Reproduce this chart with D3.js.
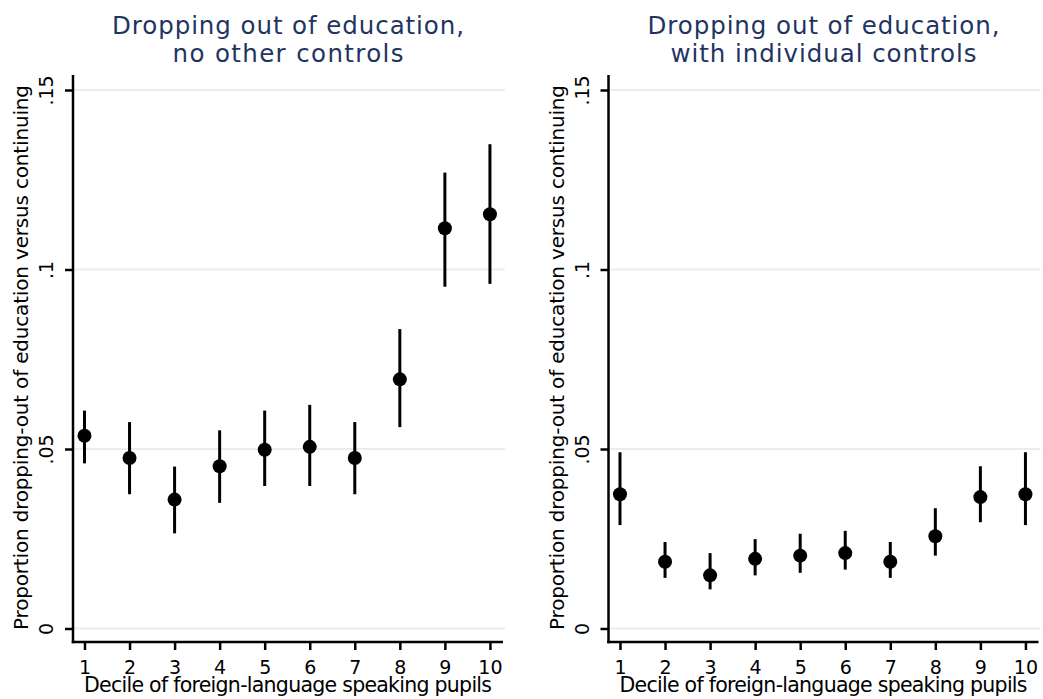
<!DOCTYPE html>
<html>
<head>
<meta charset="utf-8">
<script src="https://cdn.jsdelivr.net/npm/d3@7"></script>
<style>
  html, body { margin: 0; padding: 0; background: #fff; }
  svg { display: block; }
  text { font-family: "DejaVu Sans", Verdana, sans-serif; }
</style>
</head>
<body>
<svg id="chart" width="1043" height="699"></svg>
<script>
// Decile of foreign-language speaking pupils
const deciles = [1, 2, 3, 4, 5, 6, 7, 8, 9, 10];

// Panel 1: no other controls (point estimate and 95% interval)
const rawEst   = [0.0537, 0.0475, 0.0359, 0.0452, 0.0498, 0.0506, 0.0475, 0.0694, 0.1115, 0.1154];
const rawLow   = [0.0460, 0.0374, 0.0265, 0.0350, 0.0397, 0.0397, 0.0374, 0.0561, 0.0952, 0.0960];
const rawHigh  = [0.0607, 0.0575, 0.0451, 0.0552, 0.0607, 0.0623, 0.0575, 0.0834, 0.1270, 0.1349];

// Panel 2: with individual controls
const ctrlEst  = [0.0374, 0.0186, 0.0148, 0.0194, 0.0203, 0.0210, 0.0186, 0.0257, 0.0366, 0.0374];
const ctrlLow  = [0.0288, 0.0141, 0.0109, 0.0148, 0.0155, 0.0164, 0.0141, 0.0203, 0.0296, 0.0288];
const ctrlHigh = [0.0491, 0.0241, 0.0210, 0.0249, 0.0264, 0.0272, 0.0241, 0.0335, 0.0452, 0.0491];

const yTicks = [0, 0.05, 0.1, 0.15];
const yTickLabels = ["0", ".05", ".1", ".15"];

const panelTitles = [
  ["Dropping out of education,", "no other controls"],
  ["Dropping out of education,", "with individual controls"]
];
const xTitle = "Decile of foreign-language speaking pupils";
const yTitle = "Proportion dropping-out of education versus continuing";

const panels = [
  { est: rawEst, low: rawLow, high: rawHigh, title: panelTitles[0] },
  { est: ctrlEst, low: ctrlLow, high: ctrlHigh, title: panelTitles[1] }
];

const svg = d3.select("#chart");
const panelStep = 535.5;
const plot = { left: 73, right: 503, top: 75, bottom: 642 };
const titleColor = "#1f3561";
const gridColor = "#e7f0ee";

const x = d3.scaleLinear().domain([0.745, 10.29]).range([plot.left, plot.right]);
const y = d3.scaleLinear().domain([-0.00376, 0.15418]).range([plot.bottom, plot.top]);

// Fit a text to the given run length, adjusting letter spacing
function fit(sel, len) {
  sel.each(function () {
    d3.select(this).attr("textLength", len).attr("lengthAdjust", "spacing");
  });
}

panels.forEach((p, i) => {
  const g = svg.append("g").attr("transform", `translate(${i * panelStep},0)`);
  const cx = (plot.left + plot.right) / 2;

  // grid lines
  g.append("g").selectAll("line").data(yTicks).join("line")
    .attr("x1", plot.left).attr("x2", plot.right + 2)
    .attr("y1", d => y(d)).attr("y2", d => y(d))
    .attr("stroke", gridColor).attr("stroke-width", 2);

  // y axis
  const yAxis = g.append("g").attr("transform", `translate(${plot.left},0)`)
    .call(d3.axisLeft(y).tickValues(yTicks).tickFormat((d, k) => yTickLabels[k])
      .tickSize(8).tickPadding(0));
  yAxis.select(".domain").remove();
  yAxis.append("line").attr("x1", 0).attr("x2", 0)
    .attr("y1", plot.top).attr("y2", plot.bottom + 1.25)
    .attr("stroke", "#000").attr("stroke-width", 2.5);
  yAxis.selectAll(".tick line").attr("stroke", "#000").attr("stroke-width", 2.5);
  yAxis.selectAll(".tick text")
    .attr("x", null).attr("dy", null)
    .attr("transform", "translate(-20,0) rotate(-90)")
    .attr("text-anchor", "middle")
    .attr("fill", "#000")
    .style("font-size", "19px");

  // x axis
  const xAxis = g.append("g").attr("transform", `translate(0,${plot.bottom})`)
    .call(d3.axisBottom(x).tickValues(deciles).tickFormat(d3.format("d"))
      .tickSize(8).tickPadding(0));
  xAxis.select(".domain").remove();
  xAxis.append("line").attr("x1", plot.left - 1.25).attr("x2", plot.right)
    .attr("y1", 0).attr("y2", 0)
    .attr("stroke", "#000").attr("stroke-width", 2.5);
  xAxis.selectAll(".tick line").attr("stroke", "#000").attr("stroke-width", 2.5);
  xAxis.selectAll(".tick text")
    .attr("y", 32).attr("dy", null)
    .attr("fill", "#000")
    .style("font-size", "19px");

  // axis titles
  g.append("text")
    .attr("transform", `translate(${plot.left - 45},${(plot.top + plot.bottom) / 2 - 1}) rotate(-90)`)
    .attr("text-anchor", "middle")
    .style("font-size", "20px")
    .text(yTitle)
    .call(fit, 545);
  g.append("text")
    .attr("x", cx).attr("y", 692)
    .attr("text-anchor", "middle")
    .style("font-size", "20.5px")
    .text(xTitle)
    .call(fit, 408);

  // panel title
  const lineLen = [352, i === 0 ? 231 : 306];
  g.append("text")
    .attr("x", cx).attr("y", 34)
    .attr("text-anchor", "middle")
    .attr("fill", titleColor)
    .style("font-size", "24.5px")
    .selectAll("tspan").data(p.title).join("tspan")
    .attr("x", cx).attr("y", (d, k) => 34 + k * 28)
    .text(d => d)
    .each(function (d, k) { fit(d3.select(this), lineLen[k]); });

  // confidence intervals
  g.append("g").selectAll("line").data(deciles).join("line")
    .attr("x1", (d) => x(d)).attr("x2", (d) => x(d))
    .attr("y1", (d, k) => y(p.low[k])).attr("y2", (d, k) => y(p.high[k]))
    .attr("stroke", "#000").attr("stroke-width", 3);

  // point estimates
  g.append("g").selectAll("circle").data(deciles).join("circle")
    .attr("cx", d => x(d)).attr("cy", (d, k) => y(p.est[k]))
    .attr("r", 7).attr("fill", "#000");
});
</script>
</body>
</html>
